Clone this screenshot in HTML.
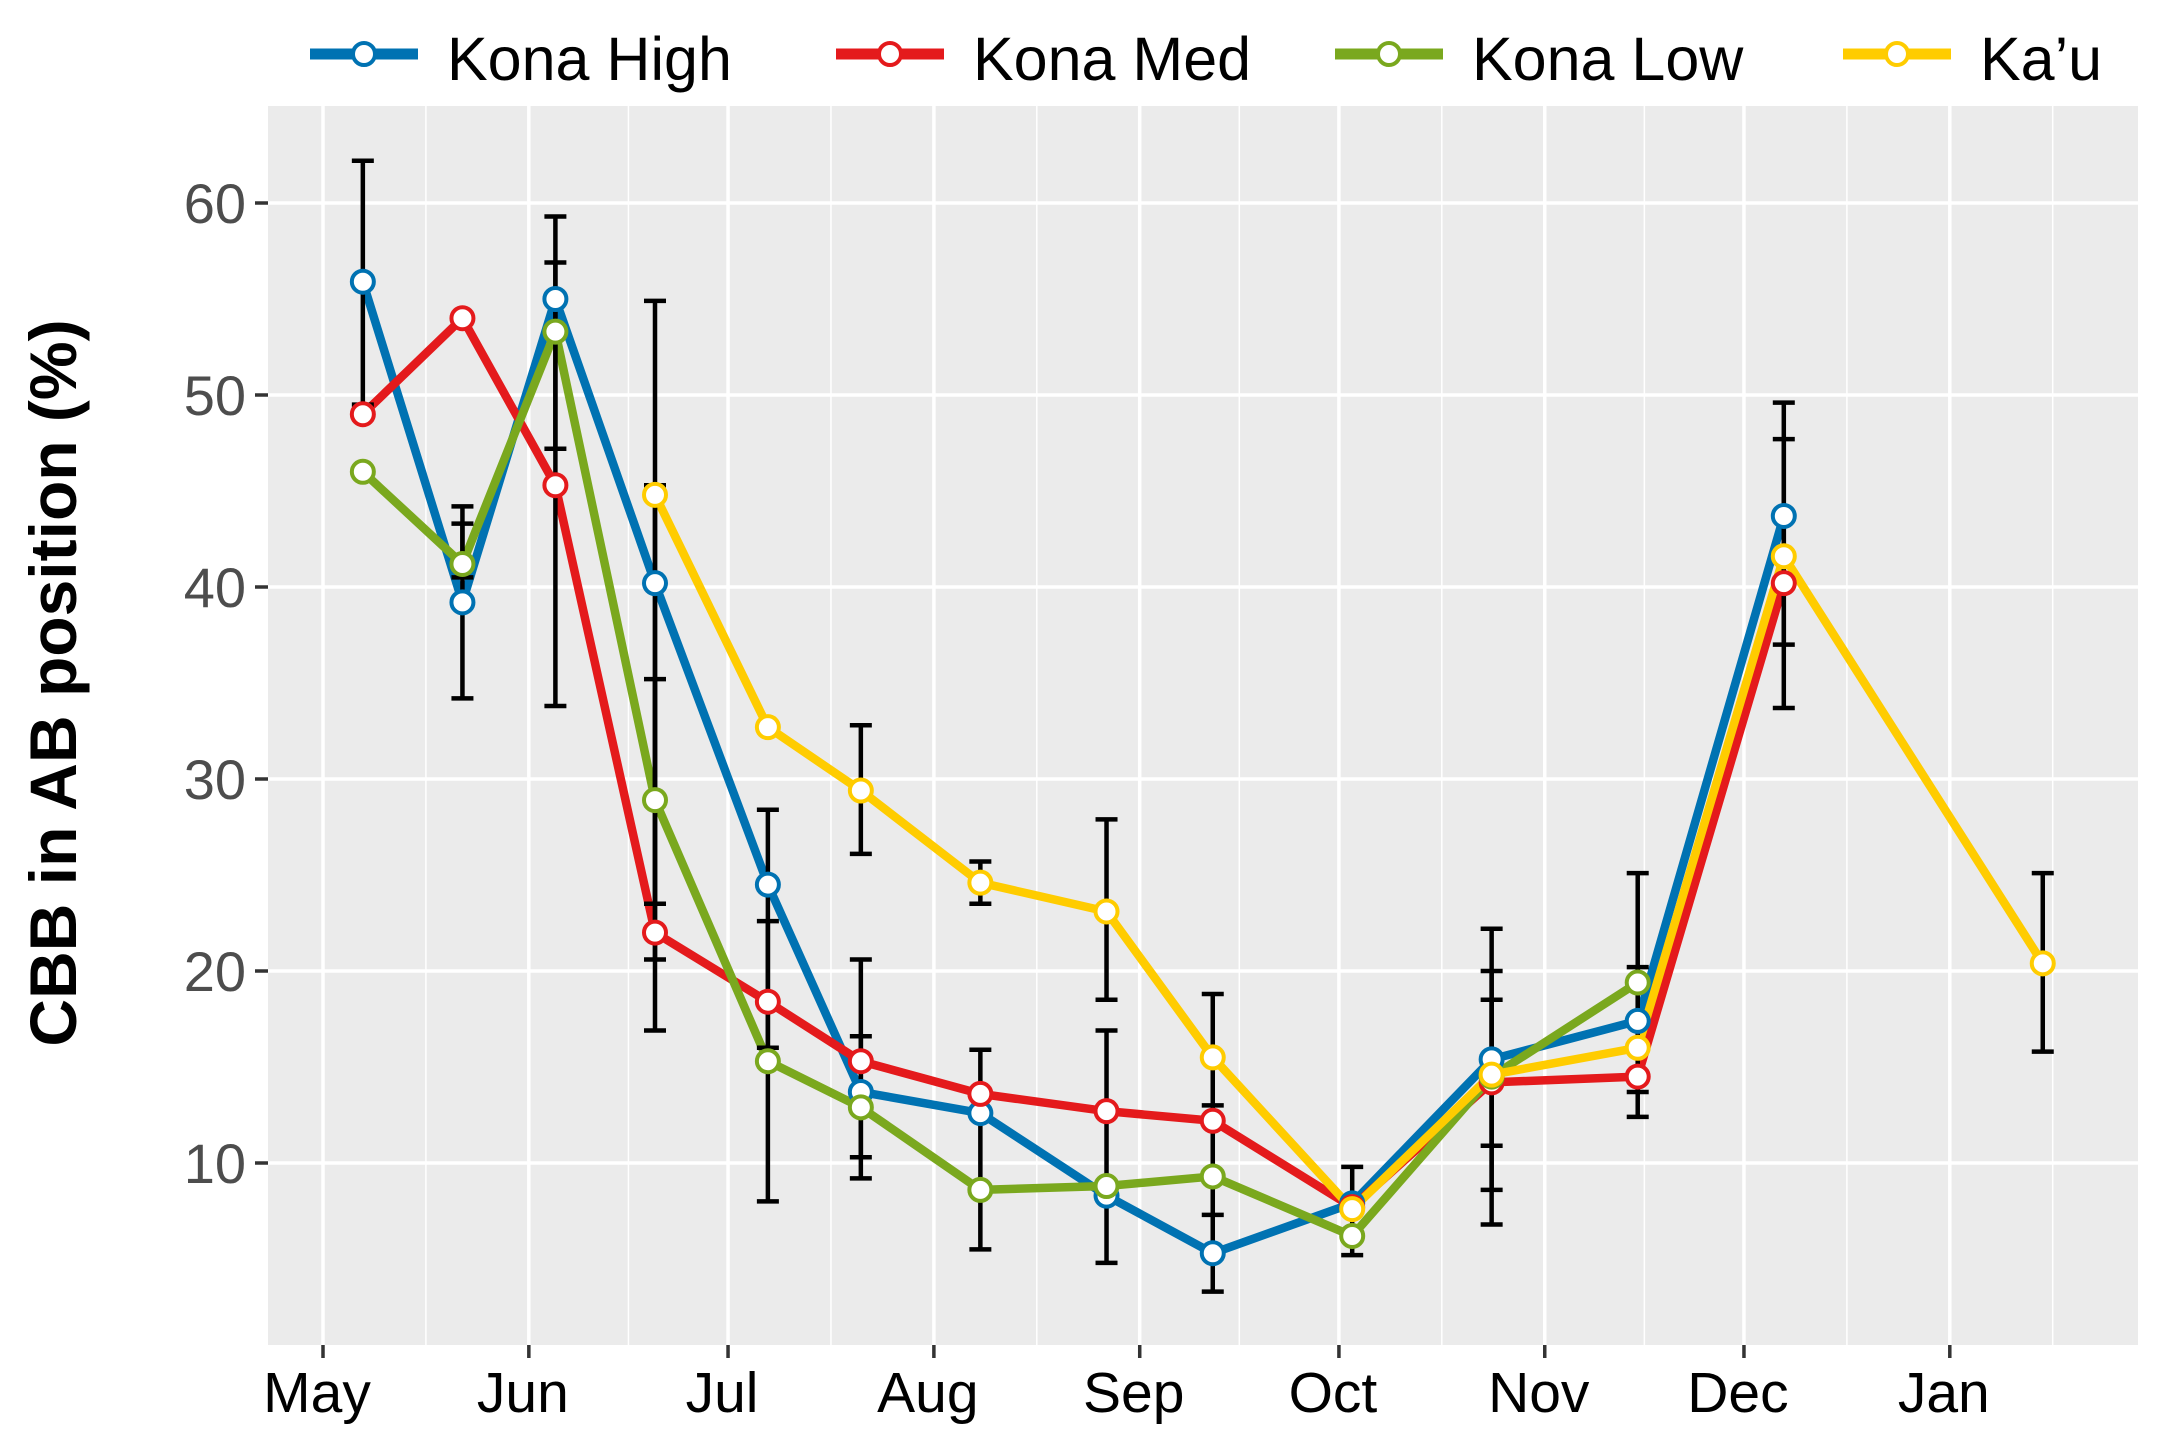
<!DOCTYPE html>
<html><head><meta charset="utf-8"><style>
html,body{margin:0;padding:0;background:#fff;}
svg{display:block;font-family:"Liberation Sans",Arial,sans-serif;}
</style></head><body>
<svg id="chart" width="2175" height="1444" viewBox="0 0 2175 1444" xmlns="http://www.w3.org/2000/svg"></svg>
<script>
// ---- data ----
const monthLabels = ["May","Jun","Jul","Aug","Sep","Oct","Nov","Dec","Jan"];
const monthDays = [0,31,61,92,123,153,184,214,245];
const yTicks = [10,20,30,40,50,60];
const konaDays = [6,21,35,50,67,81,99,118,134,155,176,198,220];
const konaHigh = [55.9,39.2,55.0,40.2,24.5,13.7,12.6,8.3,5.3,7.9,15.4,17.4,43.7];
const konaMed = [49.0,54.0,45.3,22.0,18.4,15.3,13.6,12.7,12.2,7.7,14.2,14.5,40.2];
const lowDays = [6,21,35,50,67,81,99,118,134,155,176,198];
const konaLow = [46.0,41.2,53.3,28.9,15.3,12.9,8.6,8.8,9.3,6.2,14.5,19.4];
const kauDays = [50,67,81,99,118,134,155,176,198,220,259];
const kau = [44.8,32.7,29.4,24.6,23.1,15.5,7.6,14.6,16.0,41.6,20.4];
const errDays = [6,21,21,35,35,50,50,50,67,67,81,81,81,99,99,118,118,134,134,155,176,176,176,198,198,220,220,259];
const errLow  = [49.5,34.2,40.5,33.8,47.2,16.9,20.6,23.5,8.0,16.0,26.1,9.2,10.3,23.5,5.5,18.5,4.8,3.3,7.3,5.2,6.8,8.6,10.9,12.4,13.7,33.7,37.0,15.8];
const errHigh = [62.2,44.2,43.3,56.9,59.3,54.9,35.2,45.3,28.4,22.6,32.8,20.6,16.6,25.7,15.9,27.9,16.9,18.8,13.0,9.8,22.2,18.5,20.0,25.1,20.2,49.6,47.7,25.1];

// ---- scales ----
const X0 = 323, PXD = 6.64;
const L = 268, R = 2138, T = 106, B = 1345;
const x = d => X0 + d * PXD;
const y = v => 203 + (60 - v) * 19.2;

const svg = document.getElementById('chart');
const NS = "http://www.w3.org/2000/svg";
function mk(tag, attrs, parent){
  const e = document.createElementNS(NS, tag);
  for (const k in attrs) e.setAttribute(k, attrs[k]);
  (parent || svg).appendChild(e);
  return e;
}

const panel = mk('rect', {x:L, y:T, width:R-L, height:B-T, fill:'#ebebeb'});



for (let i = 0; i < monthDays.length; i++) {
  const nd = i < monthDays.length - 1 ? monthDays[i+1] : monthDays[i] + 31;
  const xm = x((monthDays[i] + nd) / 2);
  if (xm < L || xm > R) continue;
  const g = mk('line', {x1:xm, x2:xm, y1:T, y2:B, stroke:'#fff', 'stroke-width':1.5});
  
  
}
yTicks.forEach(v => {
  const g = mk('line', {x1:L, x2:R, y1:y(v), y2:y(v), stroke:'#fff', 'stroke-width':3.5});
  
  
  const t = mk('line', {x1:L-13, x2:L, y1:y(v), y2:y(v), stroke:'#333', 'stroke-width':3.5});
  
  
  const lb = mk('text', {x:L-22, y:y(v)+20, 'text-anchor':'end', 'font-size':56, fill:'#4d4d4d'});
  lb.textContent = v;
  
  
});
monthLabels.forEach((m, i) => {
  const xm = x(monthDays[i]);
  const g = mk('line', {x1:xm, x2:xm, y1:T, y2:B, stroke:'#fff', 'stroke-width':3.5});
  
  
  const t = mk('line', {x1:xm, x2:xm, y1:B, y2:B+13, stroke:'#333', 'stroke-width':3.5});
  
  
  const lb = mk('text', {x:xm-6, y:1412, 'text-anchor':'middle', 'font-size':57, fill:'#000'});
  lb.textContent = m;
  
  
});

const yt = mk('text', {x:0, y:0, transform:'translate(76,683) rotate(-90)', 'text-anchor':'middle', 'font-size':66, 'font-weight':'bold', fill:'#000'});
yt.textContent = 'CBB in AB position (%)';



const series = [
  {name:'kona-high', days:konaDays, vals:konaHigh, color:'#0072b2'},
  {name:'kona-med', days:konaDays, vals:konaMed, color:'#e41a1c'},
  {name:'kona-low', days:lowDays, vals:konaLow, color:'#7aa81e'},
  {name:'kau', days:kauDays, vals:kau, color:'#ffcc00'}
];
series.forEach(s => {
  const pts = s.days.map((d, i) => x(d) + ',' + y(s.vals[i])).join(' ');
  const pl = mk('polyline', {points:pts, fill:'none', stroke:s.color, 'stroke-width':8.5, 'stroke-linejoin':'round'});
  
  
});

errDays.forEach((d, i) => {
  const g = mk('g', {stroke:'#000', 'stroke-width':4.5});
  
  
  const xx = x(d);
  mk('line', {x1:xx, x2:xx, y1:y(errLow[i]), y2:y(errHigh[i])}, g);
  mk('line', {x1:xx-11, x2:xx+11, y1:y(errLow[i]), y2:y(errLow[i])}, g);
  mk('line', {x1:xx-11, x2:xx+11, y1:y(errHigh[i]), y2:y(errHigh[i])}, g);
});

series.forEach(s => {
  s.days.forEach((d, i) => {
    const c = mk('circle', {cx:x(d), cy:y(s.vals[i]), r:11, fill:'#fff', stroke:s.color, 'stroke-width':4});
    
    
  });
});

const legendNames = ['Kona High','Kona Med','Kona Low','Ka\u2019u'];
const legendX = [310, 836, 1335, 1843];
series.forEach((s, i) => {
  const g = mk('g', {});
  
  
  const lx = legendX[i];
  mk('line', {x1:lx, x2:lx+108, y1:54, y2:54, stroke:s.color, 'stroke-width':11}, g);
  mk('circle', {cx:lx+54, cy:54, r:11, fill:'#fff', stroke:s.color, 'stroke-width':4}, g);
  const t = mk('text', {x:lx+137, y:80, 'font-size':61, fill:'#000'}, g);
  t.textContent = legendNames[i];
});
</script>
</body></html>
